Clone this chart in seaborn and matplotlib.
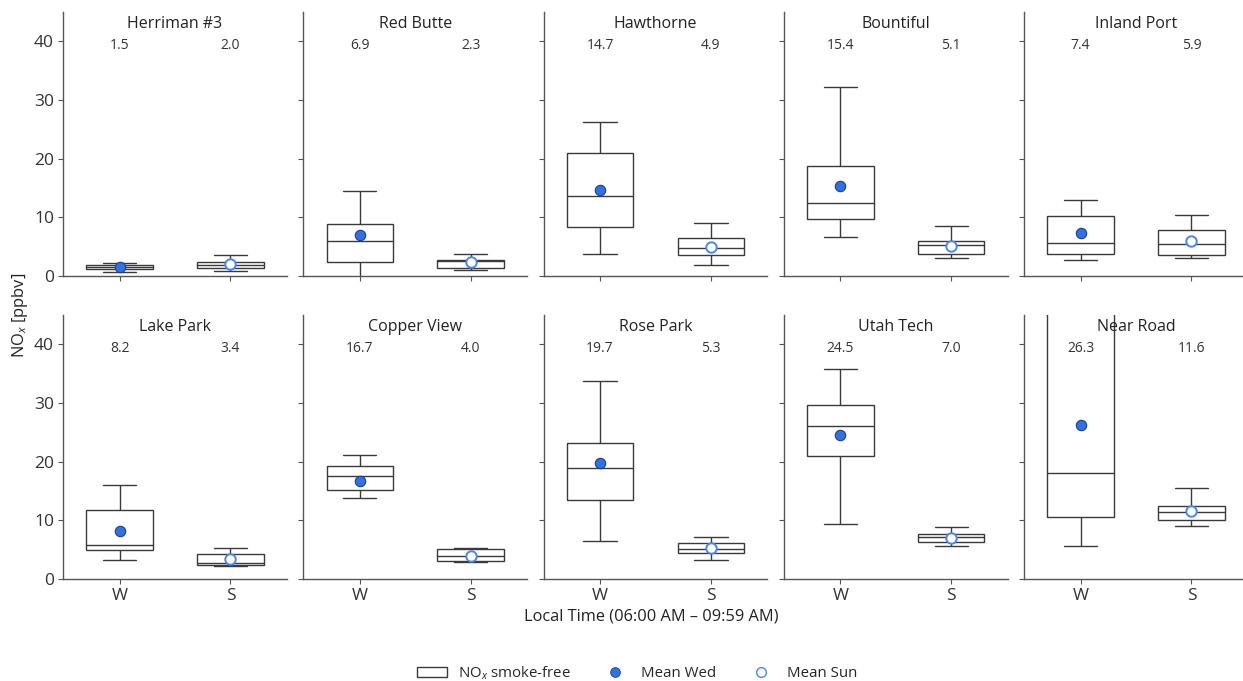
import numpy as np
import pandas as pd
import matplotlib.pyplot as plt
from matplotlib.patches import Patch
from matplotlib.lines import Line2D
import seaborn as sns

# Sites in panel order (row by row)
sites = ["Herriman #3", "Red Butte", "Hawthorne", "Bountiful", "Inland Port",
         "Lake Park", "Copper View", "Rose Park", "Utah Tech", "Near Road"]
days = ["W", "S"]

# Five-number summaries: [whisker low, Q1, median, Q3, whisker high]
wed_stats = [
    [0.7, 1.2, 1.5, 1.8, 2.2],
    [-0.4, 2.4, 6.0, 8.8, 14.5],
    [3.8, 8.4, 13.7, 21.0, 26.2],
    [6.6, 9.7, 12.5, 18.8, 32.2],
    [2.8, 3.7, 5.7, 10.2, 12.9],
    [3.3, 4.9, 5.8, 11.8, 16.1],
    [13.8, 15.2, 17.5, 19.3, 21.1],
    [6.5, 13.4, 18.9, 23.1, 33.8],
    [9.4, 20.9, 26.0, 29.6, 35.8],
    [5.6, 10.5, 18.0, 52.0, 70.0],
]
sun_stats = [
    [0.9, 1.3, 1.9, 2.4, 3.5],
    [1.0, 1.3, 2.5, 2.8, 3.8],
    [1.9, 3.5, 4.8, 6.5, 9.0],
    [3.1, 3.8, 5.2, 5.9, 8.6],
    [3.1, 3.5, 5.4, 7.8, 10.4],
    [2.2, 2.4, 2.7, 4.3, 5.3],
    [2.9, 3.1, 3.9, 5.1, 5.3],
    [3.3, 4.5, 5.1, 6.1, 7.2],
    [5.6, 6.3, 7.2, 7.6, 8.9],
    [9.0, 10.1, 11.5, 12.5, 15.5],
]
wed_means = [1.5, 6.9, 14.7, 15.4, 7.4, 8.2, 16.7, 19.7, 24.5, 26.3]
sun_means = [2.0, 2.3, 4.9, 5.1, 5.9, 3.4, 4.0, 5.3, 7.0, 11.6]

rows = []
for site, w, s in zip(sites, wed_stats, sun_stats):
    for v in w:
        rows.append({"site": site, "day": "W", "nox": v})
    for v in s:
        rows.append({"site": site, "day": "S", "nox": v})
boxData = pd.DataFrame(rows)
meanData = pd.DataFrame({
    "site": sites * 2,
    "day": ["W"] * len(sites) + ["S"] * len(sites),
    "nox": wed_means + sun_means,
})

sns.set_style("white")
plt.rcParams["font.family"] = ["Open Sans", "DejaVu Sans"]
plt.rcParams["mathtext.fontset"] = "custom"
plt.rcParams["mathtext.rm"] = "Open Sans"
plt.rcParams["mathtext.it"] = "Open Sans:italic"

edgeColor = "#3a3a3a"
blueFill = "#2f72e6"
blueEdge = "#4a86f0"

fig, axes = plt.subplots(2, 5, figsize=(12.43, 6.81), dpi=100, sharey=True)
fig.subplots_adjust(left=63 / 1243, right=1248 / 1243, top=1 - 12 / 681,
                    bottom=102 / 681, wspace=0.073, hspace=0.148)

for i, (ax, site) in enumerate(zip(axes.flat, sites)):
    sub = boxData[boxData["site"] == site]
    sns.boxplot(data=sub, x="day", y="nox", order=days, whis=(0, 100), width=0.6,
                color="white", linecolor=edgeColor, linewidth=1.0, ax=ax)
    wm = meanData[(meanData["site"] == site) & (meanData["day"] == "W")]
    sm = meanData[(meanData["site"] == site) & (meanData["day"] == "S")]
    sns.stripplot(data=wm, x="day", y="nox", order=days, jitter=False, size=7.5,
                  color=blueFill, edgecolor="#1f3f80", linewidth=0.8, zorder=4, ax=ax)
    sns.stripplot(data=sm, x="day", y="nox", order=days, jitter=False, size=7.5,
                  color="white", edgecolor=blueEdge, linewidth=1.4, zorder=4, ax=ax)

    ax.set_xlim(-0.51, 1.51)
    ax.set_ylim(0, 45)
    ax.set_yticks([0, 10, 20, 30, 40])
    ax.set_xlabel("")
    ax.set_ylabel("")
    ax.text(0.5, 0.955, site, transform=ax.transAxes, ha="center", va="center",
            fontsize=11.5, color="#222222")
    ax.text(0, 39.3, f"{wed_means[i]:.1f}", ha="center", va="center",
            fontsize=10, color="#333333")
    ax.text(1, 39.3, f"{sun_means[i]:.1f}", ha="center", va="center",
            fontsize=10, color="#333333")

    for side in ["top", "right"]:
        ax.spines[side].set_visible(False)
    for side in ["left", "bottom"]:
        ax.spines[side].set_color("#555555")
        ax.spines[side].set_linewidth(1.0)
    ax.tick_params(axis="both", which="both", direction="out", length=3.5, width=0.8,
                   color="#555555", labelsize=12.5, labelcolor="#333333", pad=3)
    ax.tick_params(axis="both", left=True, bottom=True)
    if i < 5:
        ax.tick_params(axis="x", labelbottom=False)
    if i % 5 != 0:
        ax.tick_params(axis="y", labelleft=False)

fig.text(0.016, 0.537, "NO$_x$ [ppbv]", rotation=90, ha="center", va="center",
         fontsize=11.8, color="#222222")
fig.text(0.524, 0.094, "Local Time (06:00 AM \u2013 09:59 AM)", ha="center",
         va="center", fontsize=11.8, color="#222222")

handles = [
    Patch(facecolor="white", edgecolor=edgeColor, linewidth=1.0),
    Line2D([], [], linestyle="none", marker="o", markersize=7, markerfacecolor=blueFill,
           markeredgecolor="#1f3f80", markeredgewidth=0.6),
    Line2D([], [], linestyle="none", marker="o", markersize=7, markerfacecolor="white",
           markeredgecolor=blueEdge, markeredgewidth=1.0),
]
labels = ["NO$_x$ smoke-free", "Mean Wed", "Mean Sun"]
fig.legend(handles, labels, loc="center", bbox_to_anchor=(0.5125, 0.012), ncol=3,
           frameon=False, fontsize=10.8, handlelength=2.0, handleheight=0.65,
           columnspacing=2.0, handletextpad=0.7)

fig.savefig("out.png", dpi=100)
